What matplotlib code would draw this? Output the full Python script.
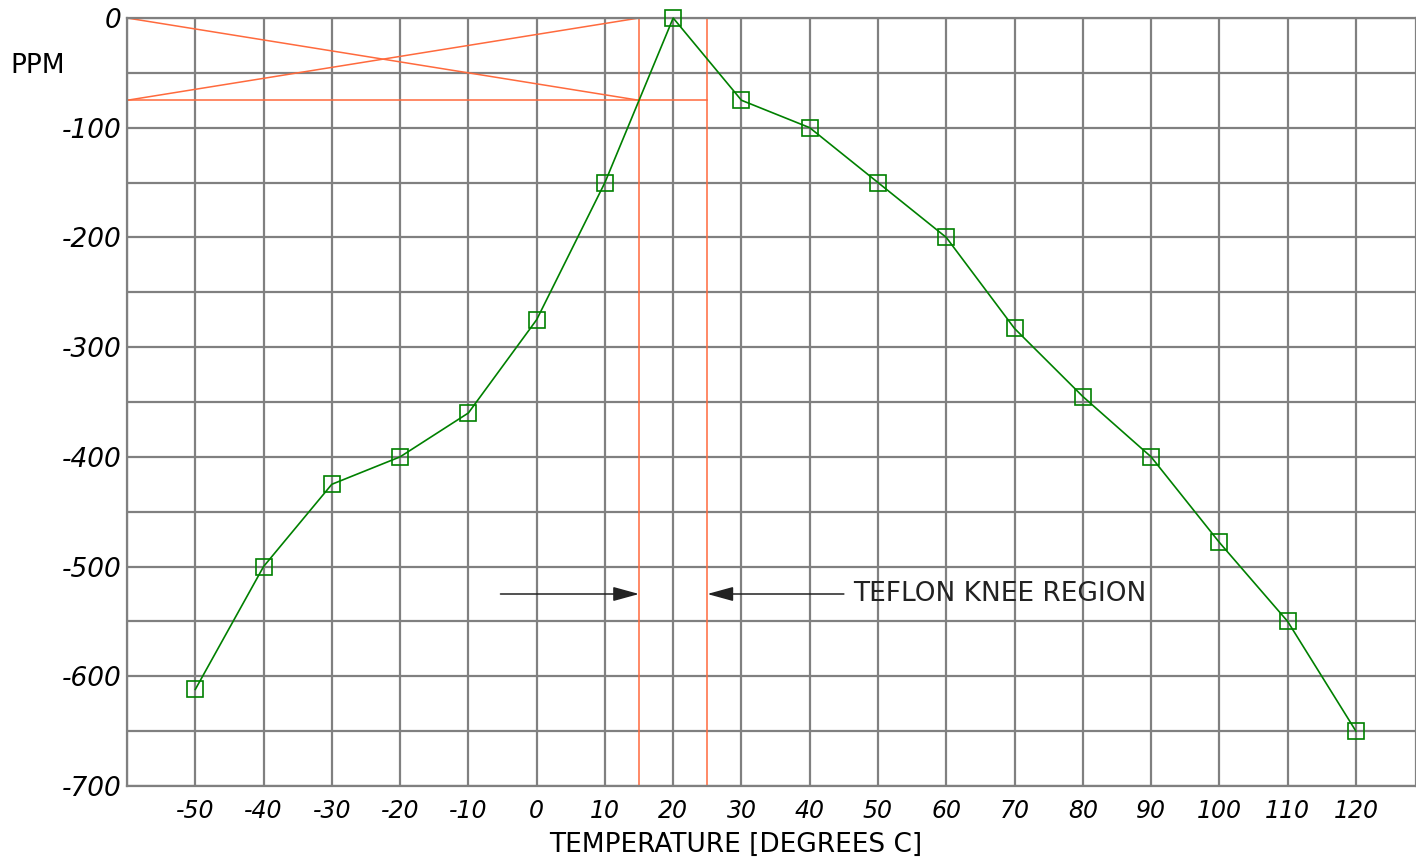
import numpy as np
import matplotlib
matplotlib.use('Agg')
import matplotlib.pyplot as plt

# data
temps = [-50, -40, -30, -20, -10, 0, 10, 20, 30, 40, 50, 60, 70, 80, 90, 100, 110, 120]
ppm = [-612, -500, -425, -400, -360, -275, -150, 0, -75, -100, -150, -200,
       -283, -345, -400, -478, -550, -650]

x_ticks = list(range(-60, 121, 10))
x_labels = [''] + [str(t) for t in range(-50, 121, 10)]
y_ticks = list(range(-700, 1, 50))
y_labels = [str(v) if v % 100 == 0 else '' for v in y_ticks]

knee_lo, knee_hi = 15, 25
knee_ppm = -75
arrow_ppm = -525
arrow_left_start = -5.3
arrow_right_start = 45
note_x = 46.3
note_text = 'TEFLON KNEE REGION'

GRID = '#808080'
ORANGE = '#ff6a3d'
GREEN = '#008000'

fig = plt.figure(figsize=(14.16, 8.59), dpi=100)
ax = fig.add_axes([127 / 1416, 73 / 859, 1289 / 1416, 768 / 859])
ax.set_xlim(-60, 128.8)
ax.set_ylim(-700, 0)

ax.set_xticks(x_ticks)
ax.set_xticklabels(x_labels, fontsize=17, style='italic')
ax.set_yticks(y_ticks)
ax.set_yticklabels(y_labels, fontsize=19, style='italic')
ax.tick_params(length=0)
ax.tick_params(axis='x', pad=9)
ax.tick_params(axis='y', pad=4)
ax.grid(True, color=GRID, lw=1.6)
ax.set_axisbelow(True)
for s in ax.spines.values():
    s.set_color(GRID)
    s.set_linewidth(1.6)

# knee region construction lines
ax.axvline(knee_lo, color=ORANGE, lw=1.1)
ax.axvline(knee_hi, color=ORANGE, lw=1.1)
ax.plot([-60, knee_hi], [knee_ppm, knee_ppm], color=ORANGE, lw=1.1)
ax.plot([-60, knee_lo], [0, knee_ppm], color=ORANGE, lw=1.1)
ax.plot([-60, knee_lo], [knee_ppm, 0], color=ORANGE, lw=1.1)

# curve
ax.plot(temps, ppm, color=GREEN, lw=1.2, marker='s', ms=12,
        mfc='none', mec=GREEN, mew=1.2, clip_on=False, zorder=5)

# arrows + note
arr = dict(arrowstyle='-|>,head_length=0.8,head_width=0.22', color='#222222',
           lw=1.1, mutation_scale=20, shrinkA=0, shrinkB=0)
ax.annotate('', xy=(knee_lo, arrow_ppm), xytext=(arrow_left_start, arrow_ppm), arrowprops=arr)
ax.annotate('', xy=(knee_hi, arrow_ppm), xytext=(arrow_right_start, arrow_ppm), arrowprops=arr)
ax.text(note_x, arrow_ppm, note_text, fontsize=19, va='center', ha='left', color='#222222')

fig.text(10 / 1416, 1 - 66 / 859, 'PPM', fontsize=19, va='center', ha='left')
fig.text(736 / 1416, 1 - 845 / 859, 'TEMPERATURE [DEGREES C]', fontsize=19,
         va='center', ha='center')

fig.savefig('out.png', dpi=100)
